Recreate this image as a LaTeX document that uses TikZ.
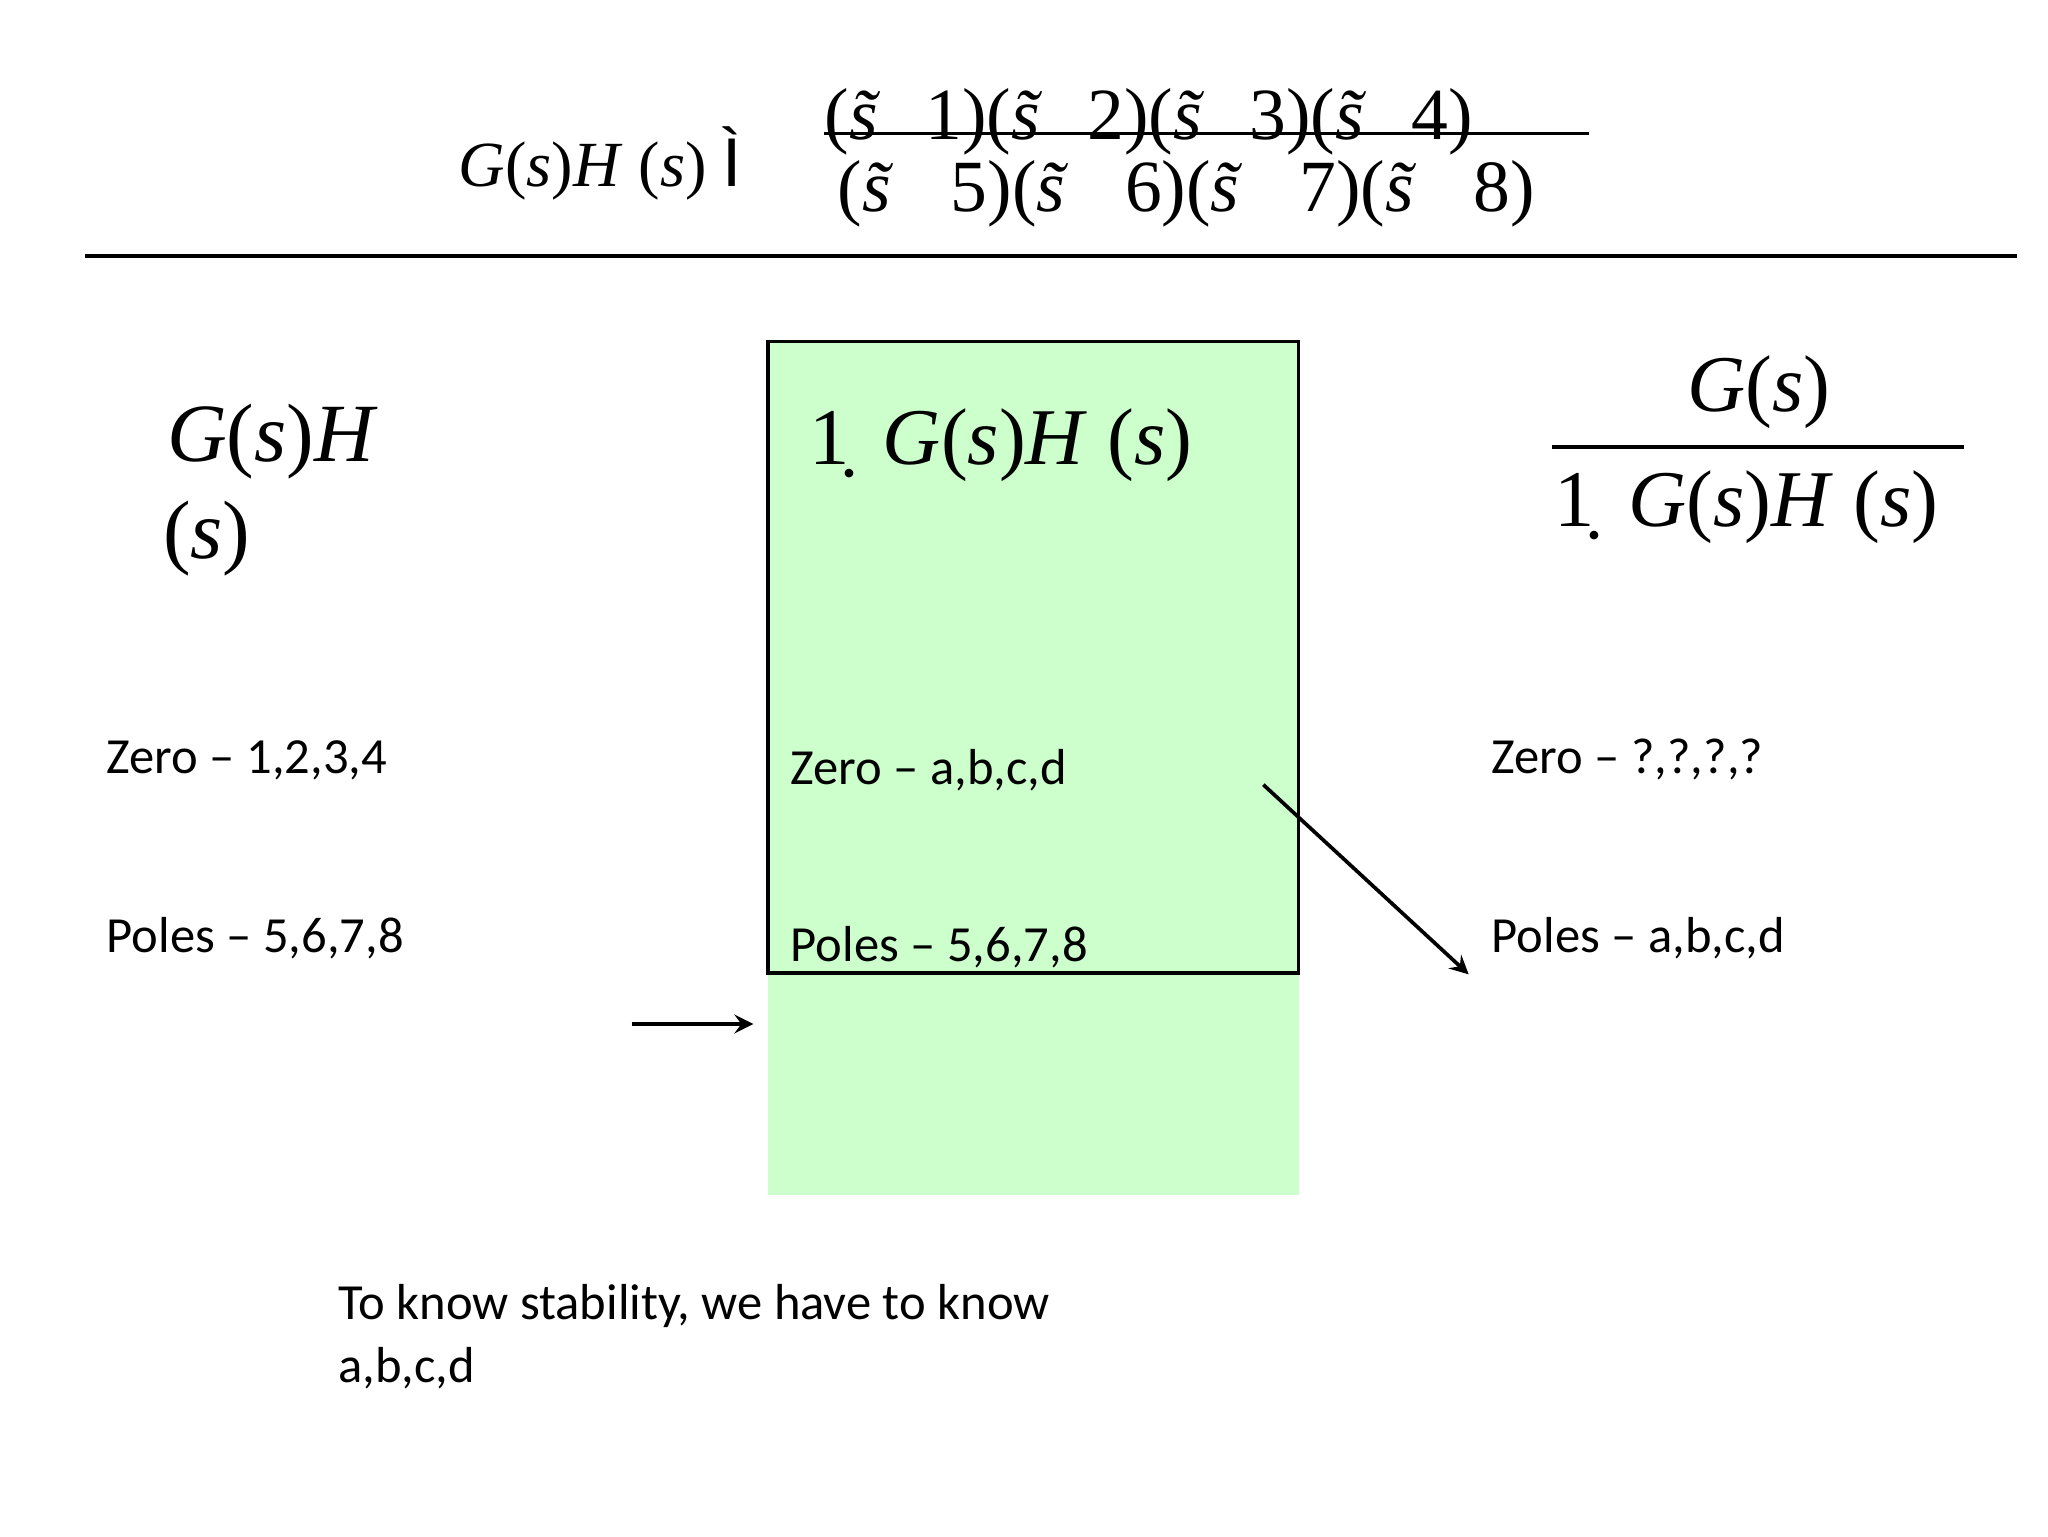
\documentclass[tikz,border=0pt]{standalone}
\usepackage{fontspec}
\setmainfont{Carlito}
\newfontfamily\tms{Liberation Serif}
\newfontfamily\lsans{Liberation Sans}
\definecolor{lgreen}{HTML}{CCFFCC}
\begin{document}
\begin{tikzpicture}[x=0.01cm,y=-0.01cm,
  lbl/.style={anchor=west,inner sep=0,font=\fontsize{11}{13}\selectfont},
  mth/.style={inner sep=0,font=\tms\fontsize{17.5}{21}\selectfont},
  arr/.style={-stealth,thick}]
\useasboundingbox (0,0) rectangle (1566,1175);
\fill[lgreen] (587,261) rectangle (993,914);
\draw[thick] (587,261) rectangle (993,744);
\draw[thick] (65,196) -- (1542,196);
% top equation
\node[mth,anchor=west,font=\tms\fontsize{14}{16}\selectfont] (lhs) at (350,125) {\textit{G}(\textit{s})\textit{H} (\textit{s}) {\lsans\fontsize{15}{16}\selectfont Ì}};
\node[mth,anchor=west,font=\tms\fontsize{16}{18}\selectfont] (num) at (630,93) {(\textit{s̃} 1)(\textit{s̃} 2)(\textit{s̃} 3)(\textit{s̃} 4)};
\node[mth,anchor=west,font=\tms\fontsize{16}{18}\selectfont] (den) at (640,148) {(\textit{s̃}\, 5)(\textit{s̃}\, 6)(\textit{s̃}\, 7)(\textit{s̃}\, 8)};
\coordinate (fa) at (630,102); \coordinate (fb) at (1215,102);
\draw[thick] (fa) -- (fb);
% left
\node[mth,anchor=west,font=\tms\fontsize{18}{22}\selectfont] (gl1) at (127,338) {\textit{G}(\textit{s})\textit{H}};
\node[mth,anchor=west,font=\tms\fontsize{18}{22}\selectfont] (gl2) at (124,412) {(\textit{s})};
% center
\node[mth,anchor=west] (gc) at (618,340) {1̣\, \textit{G}(\textit{s})\textit{H} (\textit{s})};
% right
\node[mth] (gr1) at (1345,300) {\textit{G}(\textit{s})};
\coordinate (ra) at (1187,342); \coordinate (rb) at (1502,342);
\draw[thick] (ra) -- (rb);
\node[mth,anchor=west] (gr2) at (1188,388) {1̣\, \textit{G}(\textit{s})\textit{H} (\textit{s})};
% labels
\node[lbl] (z1) at (81,581) {Zero – 1,2,3,4};
\node[lbl] (p1) at (81,717) {Poles – 5,6,7,8};
\node[lbl] (z2) at (604,589) {Zero – a,b,c,d};
\node[lbl] (p2) at (604,724) {Poles – 5,6,7,8};
\node[lbl] (z3) at (1140,581) {Zero – ?,?,?,?};
\node[lbl] (p3) at (1140,717) {Poles – a,b,c,d};
\node[lbl] (b1) at (258,999) {To know stability, we have to know};
\node[lbl] (b2) at (258,1046) {a,b,c,d};
% arrows
\coordinate (a1) at (483,783); \coordinate (a2) at (576,783);
\draw[arr] (a1) -- (a2);
\coordinate (c1) at (966,600); \coordinate (c2) at (1123,745);
\draw[arr] (c1) -- (c2);
\end{tikzpicture}
\end{document}
